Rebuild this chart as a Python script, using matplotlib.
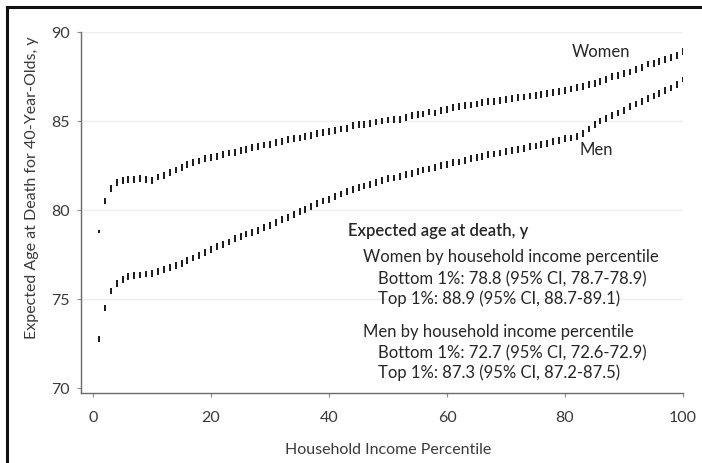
import matplotlib
matplotlib.use("Agg")
import matplotlib.pyplot as plt
from matplotlib.lines import Line2D

plt.rcParams['font.family'] = ['Lato', 'DejaVu Sans']

# Household income percentile, 1..100
percentile = list(range(1, 101))

# Expected age at death for 40-year-olds, by percentile
women = [
    78.8, 80.5, 81.2, 81.55, 81.65, 81.7, 81.7, 81.75, 81.7, 81.65,
    81.85, 81.95, 82.1, 82.25, 82.4, 82.55, 82.65, 82.75, 82.9, 82.95,
    83.0, 83.1, 83.2, 83.25, 83.35, 83.4, 83.5, 83.55, 83.65, 83.7,
    83.8, 83.85, 83.95, 84.0, 84.05, 84.15, 84.2, 84.3, 84.35, 84.4,
    84.45, 84.55, 84.6, 84.75, 84.8, 84.8, 84.85, 84.95, 85.0, 85.05,
    85.1, 85.1, 85.2, 85.3, 85.35, 85.4, 85.5, 85.45, 85.6, 85.65,
    85.75, 85.8, 85.85, 85.9, 85.95, 86.05, 86.1, 86.1, 86.15, 86.2,
    86.25, 86.3, 86.35, 86.4, 86.45, 86.5, 86.55, 86.6, 86.65, 86.7,
    86.8, 86.9, 86.95, 87.05, 87.1, 87.2, 87.35, 87.5, 87.55, 87.65,
    87.75, 87.9, 88.0, 88.2, 88.25, 88.35, 88.45, 88.55, 88.7, 88.9,
]
men = [
    72.7, 74.5, 75.45, 75.85, 76.1, 76.25, 76.3, 76.35, 76.4, 76.45,
    76.55, 76.65, 76.75, 76.9, 77.0, 77.15, 77.3, 77.45, 77.6, 77.8,
    77.95, 78.05, 78.2, 78.4, 78.5, 78.65, 78.75, 78.85, 79.0, 79.15,
    79.3, 79.45, 79.6, 79.75, 79.9, 80.05, 80.2, 80.35, 80.5, 80.6,
    80.75, 80.9, 81.05, 81.15, 81.25, 81.35, 81.45, 81.55, 81.65, 81.75,
    81.8, 81.9, 82.0, 82.05, 82.15, 82.25, 82.3, 82.4, 82.5, 82.55,
    82.65, 82.7, 82.8, 82.9, 82.95, 83.0, 83.1, 83.15, 83.2, 83.3,
    83.35, 83.4, 83.45, 83.55, 83.6, 83.7, 83.75, 83.85, 83.9, 84.0,
    84.05, 84.15, 84.3, 84.55, 84.8, 85.0, 85.15, 85.3, 85.45, 85.6,
    85.8, 85.95, 86.1, 86.25, 86.4, 86.55, 86.7, 86.85, 87.05, 87.3,
]

# 95% CI half-width for interior percentiles, and the reported CIs at the extremes
ci_half = 0.19
women_ci_bottom = (78.7, 78.9)
women_ci_top = (88.7, 89.1)
men_ci_bottom = (72.6, 72.9)
men_ci_top = (87.2, 87.5)

x_ticks = [0, 20, 40, 60, 80, 100]
y_ticks = [70, 75, 80, 85, 90]


def ci_bounds(vals, bottom, top):
    lo = [v - ci_half for v in vals]
    hi = [v + ci_half for v in vals]
    lo[0], hi[0] = bottom
    lo[-1], hi[-1] = top
    return lo, hi


women_lo, women_hi = ci_bounds(women, women_ci_bottom, women_ci_top)
men_lo, men_hi = ci_bounds(men, men_ci_bottom, men_ci_top)

W, H = 702, 463
fig = plt.figure(figsize=(W / 100, H / 100), dpi=100)


def px(x, y):
    return x / W, 1 - y / H


left, right, top, bottom = 81, 683, 32, 393
ax = fig.add_axes([left / W, 1 - bottom / H, (right - left) / W, (bottom - top) / H])

ax.set_xlim(-2.05, 100)
ax.set_ylim(69.72, 90)

for yv in y_ticks[1:]:
    ax.axhline(yv, color='#eeeeee', lw=1.0, zorder=0)

mark_color = '#1e1e1e'
ax.vlines(percentile, women_lo, women_hi, color=mark_color, lw=1.45, zorder=3)
ax.vlines(percentile, men_lo, men_hi, color=mark_color, lw=1.45, zorder=3)

for side in ('top', 'right'):
    ax.spines[side].set_visible(False)
for side in ('left', 'bottom'):
    ax.spines[side].set_color('#6a6a6a')
    ax.spines[side].set_linewidth(1.0)

ax.set_xticks(x_ticks)
ax.set_yticks(y_ticks)
ax.tick_params(axis='both', direction='out', length=3, width=0.8, color='#8a8a8a',
               labelcolor='#3a3a3a', labelsize=11.5)
ax.tick_params(axis='x', pad=10)
ax.tick_params(axis='y', pad=5)

text_color = '#262626'
fig.text(*px(32, 188), 'Expected Age at Death for 40-Year-Olds, y', rotation=90,
         ha='center', va='center', fontsize=11.5, color='#3a3a3a')
fig.text(*px(388, 450), 'Household Income Percentile', ha='center', va='center',
         fontsize=11.5, color='#3a3a3a')

fig.text(*px(601, 52), 'Women', ha='center', va='center', fontsize=12, color=text_color)
fig.text(*px(596, 150), 'Men', ha='center', va='center', fontsize=12, color=text_color)

fs = 12
fig.text(*px(348, 231), 'Expected age at death, y', ha='left', va='center',
         fontsize=fs, color=text_color, fontweight='semibold')
fig.text(*px(363, 257), 'Women by household income percentile', ha='left', va='center',
         fontsize=fs, color=text_color)
fig.text(*px(378, 279),
         f'Bottom 1%: {women[0]:.1f} (95% CI, {women_lo[0]:.1f}-{women_hi[0]:.1f})',
         ha='left', va='center', fontsize=fs, color=text_color)
fig.text(*px(378, 299),
         f'Top 1%: {women[-1]:.1f} (95% CI, {women_lo[-1]:.1f}-{women_hi[-1]:.1f})',
         ha='left', va='center', fontsize=fs, color=text_color)
fig.text(*px(363, 332), 'Men by household income percentile', ha='left', va='center',
         fontsize=fs, color=text_color)
fig.text(*px(378, 353),
         f'Bottom 1%: {men[0]:.1f} (95% CI, {men_lo[0]:.1f}-{men_hi[0]:.1f})',
         ha='left', va='center', fontsize=fs, color=text_color)
fig.text(*px(378, 373),
         f'Top 1%: {men[-1]:.1f} (95% CI, {men_lo[-1]:.1f}-{men_hi[-1]:.1f})',
         ha='left', va='center', fontsize=fs, color=text_color)

# Frame lines along the top and left edges of the figure
fig.add_artist(Line2D([7 / W, 1], [1 - 7 / H, 1 - 7 / H], transform=fig.transFigure,
                      color='#111111', lw=2.2))
fig.add_artist(Line2D([7 / W, 7 / W], [0, 1 - 7 / H], transform=fig.transFigure,
                      color='#111111', lw=2.2))

fig.savefig('out.png', dpi=100)
